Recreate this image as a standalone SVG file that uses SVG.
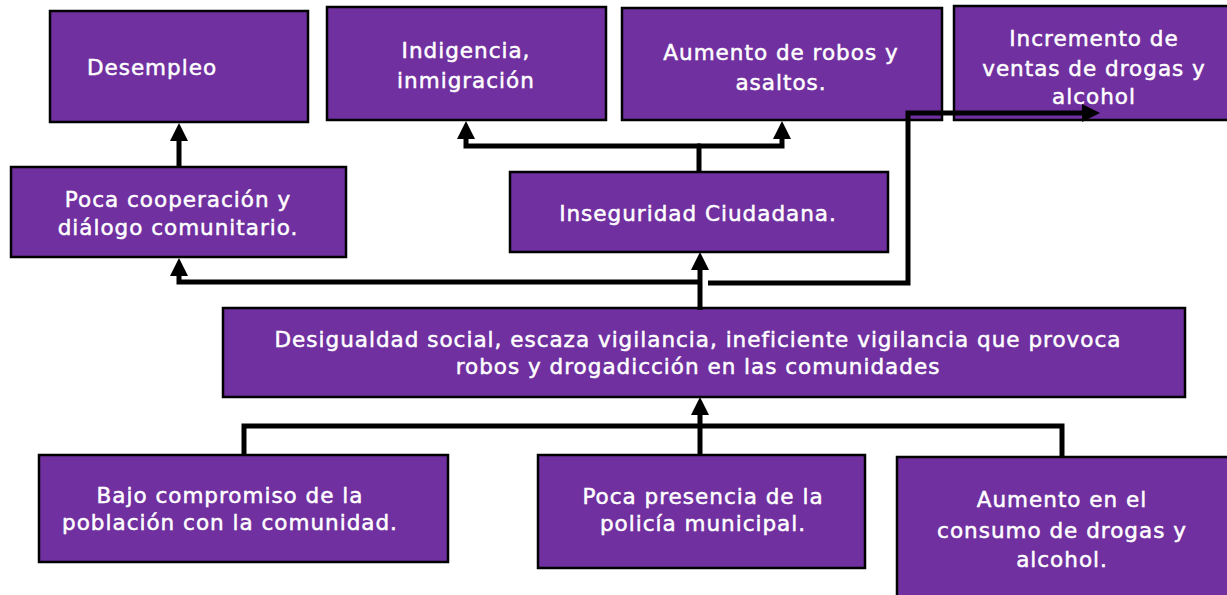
<svg xmlns="http://www.w3.org/2000/svg" width="1227" height="595" viewBox="0 0 1227 595">
<style>
.box{fill:#7030A0;stroke:#000;stroke-width:2.5}
.t{fill:#fff;stroke:#fff;stroke-width:0.5;font-family:"DejaVu Sans","Liberation Sans",Arial,sans-serif;font-size:21.5px;letter-spacing:1px;text-anchor:middle}
.c{fill:none;stroke:#000;stroke-width:5}
</style>
<defs>
<marker id="ah" markerUnits="userSpaceOnUse" markerWidth="18" markerHeight="18" refX="10" refY="9" orient="auto">
<path d="M0,0 L18,9 L0,18 z" fill="#000"/>
</marker>
</defs>
<g id="desempleo"><rect class="box" x="50" y="11" width="258" height="111"/>
<text class="t" x="152" y="75">Desempleo</text></g>
<g id="indigencia"><rect class="box" x="327" y="7" width="279" height="113"/>
<text class="t" x="466" y="58">Indigencia,<tspan x="466" dy="30">inmigración</tspan></text></g>
<g id="robos"><rect class="box" x="622" y="8" width="320" height="112"/>
<text class="t" x="781" y="60">Aumento de robos y<tspan x="781" dy="30">asaltos.</tspan></text></g>
<g id="incremento"><rect class="box" x="954" y="6" width="280" height="114"/>
<text class="t" x="1094" y="46">Incremento de<tspan x="1094" dy="30">ventas de drogas y</tspan><tspan x="1094" dy="28">alcohol</tspan></text></g>
<g id="cooperacion"><rect class="box" x="11" y="167" width="335" height="90"/>
<text class="t" x="178" y="207">Poca cooperación y<tspan x="178" dy="28">diálogo comunitario.</tspan></text></g>
<g id="inseguridad"><rect class="box" x="510" y="172" width="378" height="80"/>
<text class="t" x="698" y="221">Inseguridad Ciudadana.</text></g>
<g id="desigualdad"><rect class="box" x="223" y="308" width="962" height="89"/>
<text class="t" x="698" y="347">Desigualdad social, escaza vigilancia, ineficiente vigilancia que provoca<tspan x="698" dy="27">robos y drogadicción en las comunidades</tspan></text></g>
<g id="compromiso"><rect class="box" x="39" y="455" width="409" height="107"/>
<text class="t" x="230" y="503">Bajo compromiso de la<tspan x="230" dy="27">población con la comunidad.</tspan></text></g>
<g id="presencia"><rect class="box" x="538" y="455" width="327" height="113"/>
<text class="t" x="703" y="504">Poca presencia de la<tspan x="703" dy="27">policía municipal.</tspan></text></g>
<g id="consumo"><rect class="box" x="897" y="457" width="340" height="150"/>
<text class="t" x="1062" y="507">Aumento en el<tspan x="1062" dy="31">consumo de drogas y</tspan><tspan x="1062" dy="29">alcohol.</tspan></text></g>
<g id="connectors">
<path class="c" d="M179 167 V131" marker-end="url(#ah)"/>
<path class="c" d="M699 172 V146"/>
<path class="c" d="M701 146 H466 V129" marker-end="url(#ah)"/>
<path class="c" d="M697 146 H782 V129" marker-end="url(#ah)"/>
<path class="c" d="M700 310 V260" marker-end="url(#ah)"/>
<path class="c" d="M700 282 H179 V266" marker-end="url(#ah)"/>
<path class="c" d="M708 283 H908 V113 H1092" marker-end="url(#ah)"/>
<path class="c" d="M244 455 V426 H1062 V458"/>
<path class="c" d="M700 455 V405" marker-end="url(#ah)"/>
</g>
</svg>
